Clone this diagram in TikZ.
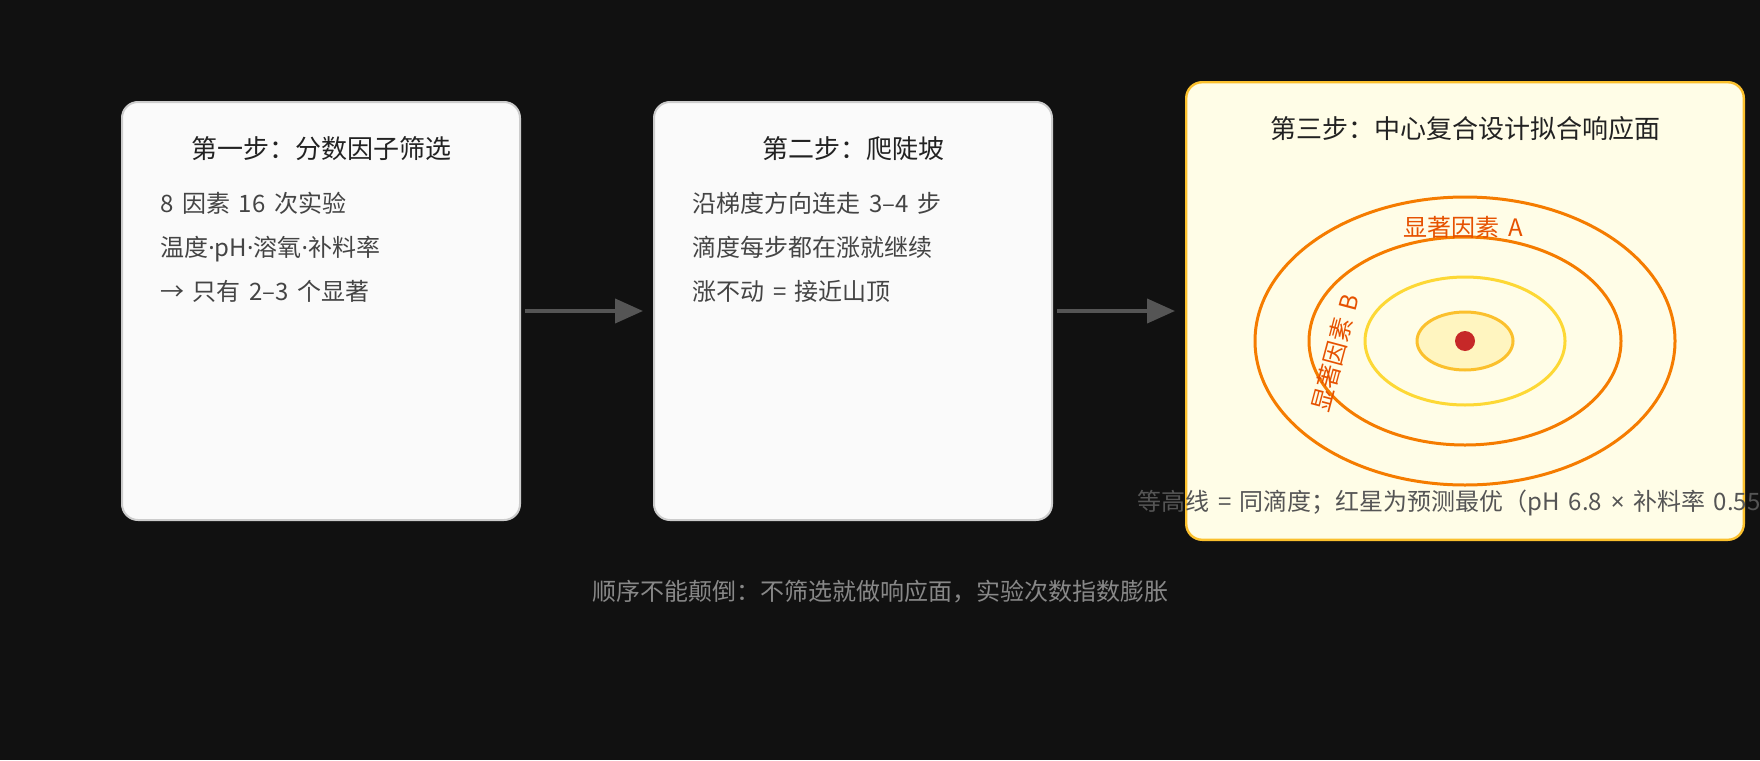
\documentclass[tikz,border=0pt]{standalone}
\usepackage{fontspec}
\setmainfont{Noto Sans CJK SC}[WordSpace=1.6]
\newfontfamily\latinfont{Noto Sans}
\usetikzlibrary{positioning,calc,arrows.meta}
\definecolor{canvas}{HTML}{111111}
\definecolor{boxfill}{HTML}{FAFAFA}
\definecolor{boxedge}{HTML}{CCCCCC}
\definecolor{surfacefill}{HTML}{FFFDE7}
\definecolor{surfaceedge}{HTML}{FBC02D}
\definecolor{titleink}{HTML}{222222}
\definecolor{bodyink}{HTML}{444444}
\definecolor{noteink}{HTML}{555555}
\definecolor{captionink}{HTML}{888888}
\definecolor{flowgray}{HTML}{555555}
\definecolor{ringouter}{HTML}{F57C00}
\definecolor{ringmid}{HTML}{FDD835}
\definecolor{ringinner}{HTML}{FBC02D}
\definecolor{corefill}{HTML}{FFF5C0}
\definecolor{optimum}{HTML}{C62828}
\definecolor{factorink}{HTML}{E65100}
\newcommand{\middot}{{\latinfont ·}}

\begin{document}
\begin{tikzpicture}[x=1pt, y=-1pt,
    stepbox/.style={draw=boxedge, fill=boxfill, line width=1pt, rounded corners=8pt,
        minimum width=199pt, minimum height=209pt, inner sep=0pt},
    steptitle/.style={font=\fontsize{13}{15}\selectfont, text=titleink, anchor=base, inner sep=0pt},
    stepline/.style={font=\fontsize{12}{14}\selectfont, text=bodyink, anchor=base west, inner sep=0pt},
    flow/.style={draw=flowgray, line width=2pt, -{Triangle[length=14pt, width=12pt]},
        shorten <=2pt, shorten >=5pt},
    contour/.style={line width=1.5pt},
    factor/.style={font=\fontsize{12}{14}\selectfont, text=factorink, inner sep=0pt}]
    \def\gap{66pt}
    \useasboundingbox (0,0) rectangle (880,380);
    \fill [canvas] (0,0) rectangle (880,380);

    \node [stepbox, anchor=north west] (screen) at (60.5,50.5) {};
    \node [stepbox, right=\gap of screen] (climb) {};
    \node [stepbox, right=\gap of climb, minimum width=278.8pt, minimum height=228.8pt,
        fill=surfacefill, draw=surfaceedge, line width=1.2pt] (surface) {};

    \draw [flow] (screen) -- (climb);
    \draw [flow] (climb) -- (surface);

    \node [steptitle] (screentitle) at ($(screen.north)+(0,28.5)$) {第一步：分数因子筛选};
    \node [stepline] (screenA) at ($(screen.north west)+(19.5,55.5)$) {8 因素 16 次实验};
    \node [stepline] (screenB) at ($(screen.north west)+(19.5,77.5)$) {温度\middot pH\middot 溶氧\middot 补料率};
    \node [stepline] (screenC) at ($(screen.north west)+(19.5,99.5)$) {→ 只有 2–3 个显著};

    \node [steptitle] (climbtitle) at ($(climb.north)+(0,28.5)$) {第二步：爬陡坡};
    \node [stepline] (climbA) at ($(climb.north west)+(19.5,55.5)$) {沿梯度方向连走 3–4 步};
    \node [stepline] (climbB) at ($(climb.north west)+(19.5,77.5)$) {滴度每步都在涨就继续};
    \node [stepline] (climbC) at ($(climb.north west)+(19.5,99.5)$) {涨不动 = 接近山顶};

    \node [steptitle] (surfacetitle) at ($(surface.north)+(0,28.5)$) {第三步：中心复合设计拟合响应面};

    \coordinate (peak) at ($(surface.center)+(0,15)$);
    \draw [contour, draw=ringouter] (peak) ellipse [x radius=105, y radius=72];
    \draw [contour, draw=ringouter] (peak) ellipse [x radius=78, y radius=52];
    \draw [contour, draw=ringmid] (peak) ellipse [x radius=50, y radius=32];
    \draw [contour, draw=ringinner, fill=corefill] (peak) ellipse [x radius=24, y radius=14.5];
    \fill [optimum] (peak) circle [radius=5];

    \node [factor] (factorA) at ($(peak)+(-1,-57)$) {显著因素 A};
    \node [factor, rotate=75] (factorB) at ($(peak)+(-65,6)$) {显著因素 B};

    \node [font=\fontsize{12}{14}\selectfont, text=noteink, anchor=west, inner sep=0pt]
        (contournote) at ($(surface.south west)+(-24,-19)$)
        {等高线 = 同滴度；红星为预测最优（pH 6.8 {\latinfont ×} 补料率 0.55};

    \node [font=\fontsize{12}{14}\selectfont, text=captionink] (caption) at (440,296)
        {顺序不能颠倒：不筛选就做响应面，实验次数指数膨胀};
\end{tikzpicture}
\end{document}
